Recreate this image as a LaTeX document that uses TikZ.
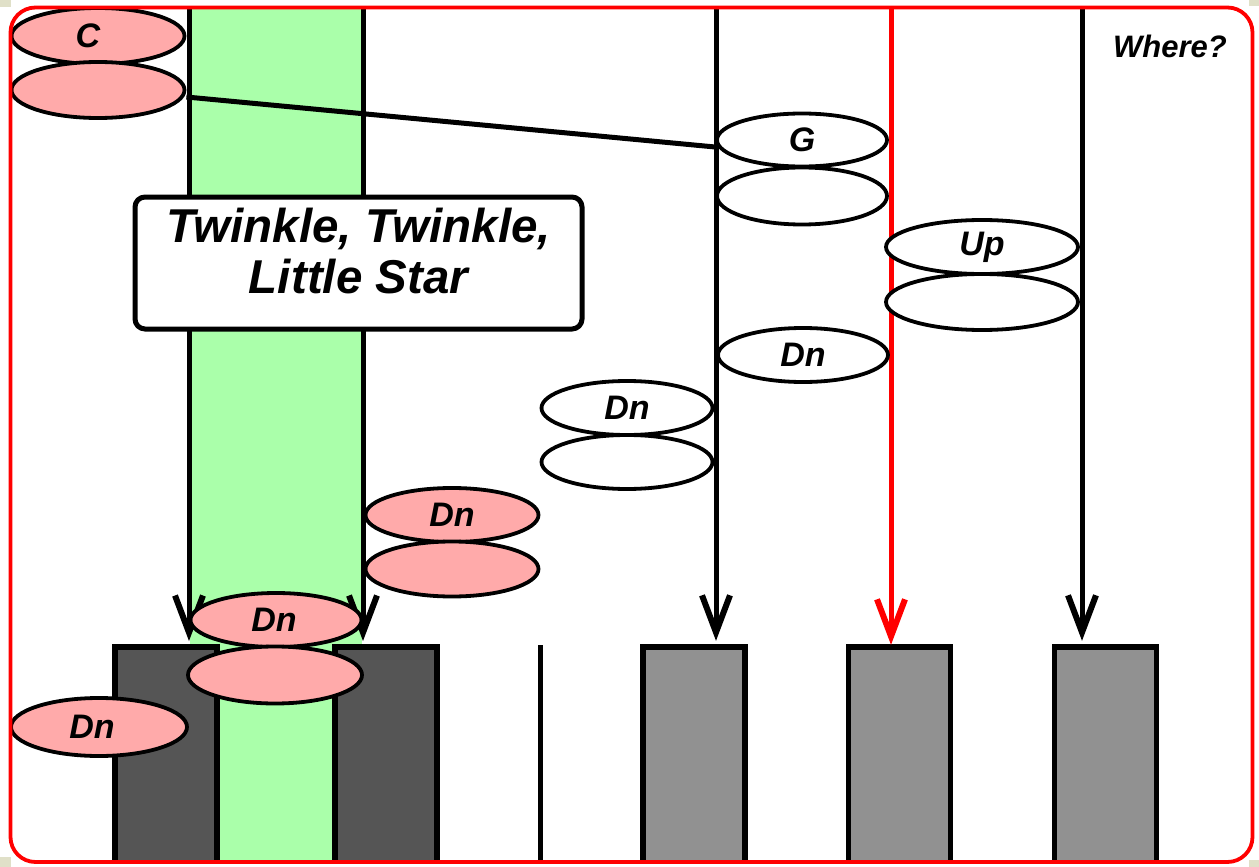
\documentclass[tikz,border=0pt]{standalone}
\usepackage{fontspec}
\setmainfont{Liberation Sans}
\usetikzlibrary{shapes.geometric,arrows.meta}
\definecolor{pinkc}{RGB}{255,170,170}
\definecolor{greenc}{RGB}{170,255,170}
\definecolor{darkc}{RGB}{85,85,85}
\definecolor{grayc}{RGB}{145,145,145}
\definecolor{beigec}{RGB}{224,224,200}
\begin{document}
\begin{tikzpicture}[x=1pt,y=-1pt,
  lbl/.style={font=\bfseries\itshape\fontsize{34}{34}\selectfont},
  ell/.style={ellipse, draw, line width=3.8pt, inner sep=0pt, minimum width=172pt, minimum height=56pt, lbl},
  pinkell/.style={ell, fill=pinkc},
  whiteell/.style={ell, fill=white},
  vline/.style={line width=5pt},
  keyline/.style={line width=5.5pt},
  arr/.style={line width=5pt, -{Straight Barb[length=37pt,width=28pt,line width=6pt]}},
  keybox/.style={rectangle, inner sep=0pt, minimum width=102pt, minimum height=213pt},
]
\useasboundingbox (0,0) rectangle (1259,867);
% corner bits
\fill[beigec] (0,0) rectangle (11,7);
\fill[beigec] (1249,0) rectangle (1259,6);
\fill[beigec] (0,857) rectangle (11,867);
\fill[beigec] (1249,860) rectangle (1259,867);
% green column
\fill[greenc] (190,8) rectangle (362,860);
% top coordinates
\coordinate (t1) at (189,8);
\coordinate (t2) at (363,8);
\coordinate (t3) at (716,8);
\coordinate (t4) at (891,8);
\coordinate (t5) at (1082,8);
\coordinate (e1) at (189,641);
\coordinate (e2) at (363,641);
% keys
\node[keybox, fill=darkc] (k1) at (166,753.5) {};
\node[keybox, fill=darkc] (k2) at (386,753.5) {};
\node[keybox, fill=grayc] (k3) at (694,753.5) {};
\node[keybox, fill=grayc] (k4) at (899.5,753.5) {};
\node[keybox, fill=grayc] (k5) at (1105.5,753.5) {};
\foreach \k in {k1,k2,k3,k4,k5}{
  \draw[keyline] (\k.south west) -- (\k.north west) -- (\k.north east) -- (\k.south east);
}
\coordinate (s1) at (540,645);
\coordinate (s2) at (540,860);
\draw[vline] (s1) -- (s2);
% arrows
\draw[arr] (t1) -- (e1);
\draw[arr] (t2) -- (e2);
\draw[arr, shorten >=6pt] (t3) -- (k3.north -| t3);
\draw[arr, red, shorten >=2pt] (t4) -- (k4.north -| t4);
\draw[arr, shorten >=6pt] (t5) -- (k5.north -| t5);
% ellipses
\node[pinkell, minimum width=173pt] (C) at (98,36) {C\rule{20pt}{0pt}};
\node[pinkell, minimum width=173pt] (C2) at (98,90) {};
\node[whiteell, minimum width=170pt, minimum height=53pt] (G) at (802,140) {G};
\node[whiteell, minimum width=170pt, minimum height=57pt] (G2) at (802,196) {};
\node[whiteell, minimum width=192pt, minimum height=54pt] (Up) at (982,247) {Up};
\node[whiteell, minimum width=192pt, minimum height=56pt] (Up2) at (982,302) {};
\node[whiteell, minimum width=170pt, minimum height=54pt] (D1) at (803,355) {Dn};
\node[whiteell, minimum width=171pt, minimum height=54pt] (D2) at (627,408) {Dn};
\node[whiteell, minimum width=171pt, minimum height=54pt] (D2b) at (627,462) {};
\node[pinkell, minimum width=173pt, minimum height=54pt] (D3) at (452,515) {Dn};
\node[pinkell, minimum width=173pt, minimum height=55pt] (D3b) at (452,569) {};
\node[pinkell, minimum width=171pt, minimum height=54pt] (D4) at (276,620) {Dn\rule{4pt}{0pt}};
\node[pinkell, minimum width=174pt, minimum height=57pt] (D4b) at (275,675) {};
\node[pinkell, minimum width=176pt, minimum height=58pt] (D5) at (99,727) {Dn\rule{14pt}{0pt}};
% connector C -> G
\draw[line width=5pt] ([yshift=-7pt]C2.east) -- ([yshift=-7pt]G.west);
% title box
\node[draw, fill=white, line width=5pt, rounded corners=10pt, minimum width=447pt, minimum height=132pt] (title) at (358.5,263) {};
\node[align=center, inner sep=0pt, font=\bfseries\itshape\fontsize{47.5}{51}\selectfont] (titletext) at ([yshift=12pt]title.center) {Twinkle, Twinkle,\\Little Star};
% where
\node[font=\bfseries\itshape\fontsize{31}{31}\selectfont] (where) at (1170,46) {Where?};
% frame
\draw[red, line width=3.8pt, rounded corners=25pt] (10.5,7.5) rectangle (1252.5,862);
\end{tikzpicture}
\end{document}
